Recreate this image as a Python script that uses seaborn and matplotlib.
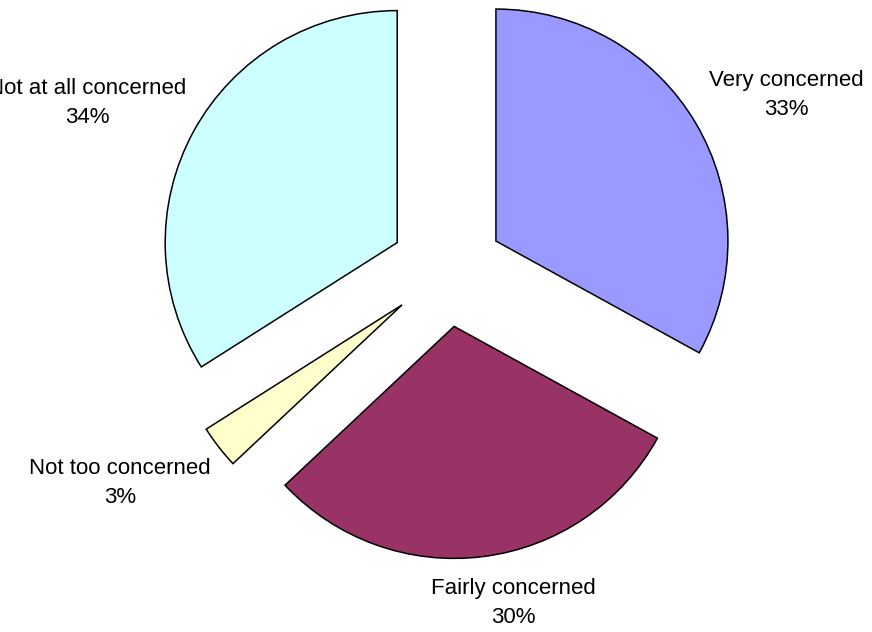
import matplotlib
matplotlib.use("Agg")
import matplotlib.pyplot as plt
import seaborn as sns
import numpy as np

categories = ["Very concerned", "Fairly concerned", "Not too concerned", "Not at all concerned"]
values = [33, 30, 3, 34]
colors = ["#9999FF", "#993366", "#FFFFCC", "#CCFFFF"]

sns.set_theme(style="white")
plt.rcParams['font.family'] = ['Liberation Sans', 'DejaVu Sans']

W, H = 872, 632
R = 232.0
cx, cy = 447.0, 362.0  # pixel centre (from bottom-left)

fig = plt.figure(figsize=(W / 100, H / 100), dpi=100)
ax = fig.add_axes([0, 0, 1, 1])

explode = [0.245] * len(values)
wedges, _ = ax.pie(values, colors=colors, explode=explode, startangle=90,
                   counterclock=False, radius=1.0,
                   wedgeprops=dict(edgecolor='black', linewidth=1.1))

ax.set_xlim(-cx / R, (W - cx) / R)
ax.set_ylim(-cy / R, (H - cy) / R)
ax.set_aspect('equal')
ax.axis('off')

# label offsets (in radius units) relative to pie centre
label_pos = [(1.461, 0.754), (0.284, -1.435), (-1.409, -0.918), (-1.552, 0.720)]
for cat, v, (lx, ly) in zip(categories, values, label_pos):
    ax.text(lx, ly, f"{cat}\n{v}%", ha='center', va='center', fontsize=16,
            linespacing=1.45, color='black')

fig.savefig("out.png", dpi=100)
